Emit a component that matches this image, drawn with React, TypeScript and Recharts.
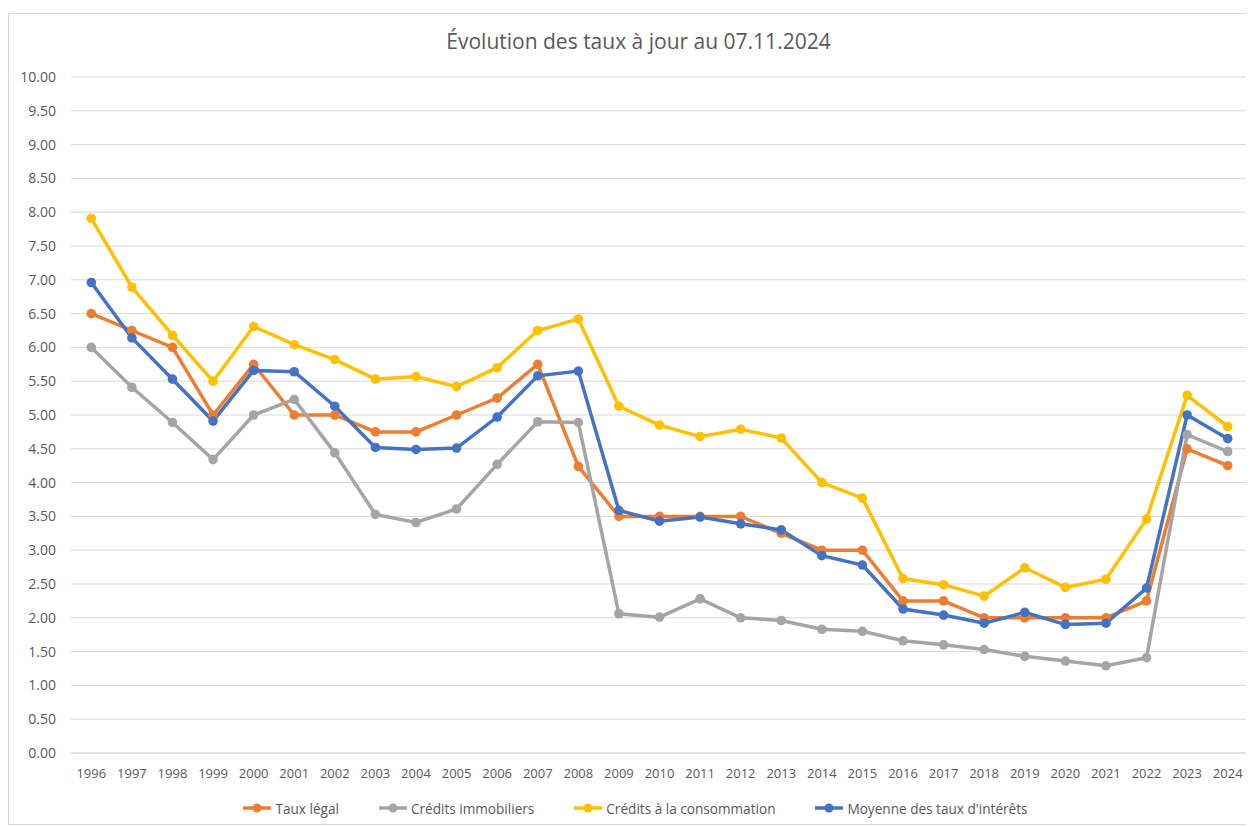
import React from 'react';
import { LineChart, Line, XAxis, YAxis, CartesianGrid, Legend } from 'recharts';

const years = [
  '1996', '1997', '1998', '1999', '2000', '2001', '2002', '2003', '2004', '2005',
  '2006', '2007', '2008', '2009', '2010', '2011', '2012', '2013', '2014', '2015',
  '2016', '2017', '2018', '2019', '2020', '2021', '2022', '2023', '2024',
];

const tauxLegal = [
  6.5, 6.25, 6.0, 5.0, 5.75, 5.0, 5.0, 4.75, 4.75, 5.0,
  5.25, 5.75, 4.24, 3.5, 3.5, 3.5, 3.5, 3.25, 3.0, 3.0,
  2.25, 2.25, 2.0, 2.0, 2.0, 2.0, 2.25, 4.5, 4.25,
];

const creditsImmobiliers = [
  6.0, 5.41, 4.89, 4.34, 5.0, 5.23, 4.44, 3.53, 3.41, 3.61,
  4.27, 4.9, 4.89, 2.06, 2.01, 2.28, 2.0, 1.96, 1.83, 1.8,
  1.66, 1.6, 1.53, 1.43, 1.36, 1.29, 1.41, 4.71, 4.46,
];

const creditsConsommation = [
  7.91, 6.89, 6.18, 5.5, 6.31, 6.04, 5.82, 5.53, 5.57, 5.42,
  5.7, 6.25, 6.42, 5.13, 4.85, 4.68, 4.79, 4.66, 4.0, 3.77,
  2.58, 2.49, 2.32, 2.74, 2.45, 2.57, 3.46, 5.29, 4.83,
];

const moyenneTaux = [
  6.96, 6.14, 5.53, 4.91, 5.66, 5.64, 5.13, 4.52, 4.49, 4.51,
  4.97, 5.58, 5.65, 3.59, 3.43, 3.49, 3.39, 3.3, 2.92, 2.78,
  2.13, 2.04, 1.92, 2.08, 1.9, 1.92, 2.44, 5.0, 4.65,
];

const yTicks = [0, 0.5, 1, 1.5, 2, 2.5, 3, 3.5, 4, 4.5, 5, 5.5, 6, 6.5, 7, 7.5, 8, 8.5, 9, 9.5, 10];

const series = [
  { key: 'tauxLegal', name: 'Taux légal', color: '#ED7D31' },
  { key: 'creditsImmobiliers', name: 'Crédits immobiliers', color: '#A5A5A5' },
  { key: 'creditsConsommation', name: 'Crédits à la consommation', color: '#FFC000' },
  { key: 'moyenneTaux', name: "Moyenne des taux d'intérêts", color: '#4472C4' },
];

const data = years.map((year, i) => ({
  year,
  tauxLegal: tauxLegal[i],
  creditsImmobiliers: creditsImmobiliers[i],
  creditsConsommation: creditsConsommation[i],
  moyenneTaux: moyenneTaux[i],
}));

const FONT = '"Open Sans", "Noto Sans", sans-serif';
const TEXT = '#595959';

const LegendContent = () => (
  <div
    style={{
      display: 'flex',
      justifyContent: 'center',
      alignItems: 'center',
      gap: 40,
      height: 24,
      paddingLeft: 14,
      fontFamily: FONT,
      fontSize: 13.6,
      color: TEXT,
    }}
  >
    {series.map((s) => (
      <div key={s.key} style={{ display: 'flex', alignItems: 'center' }}>
        <svg width={28} height={10} style={{ marginRight: 4 }}>
          <line x1={0} y1={5} x2={28} y2={5} stroke={s.color} strokeWidth={3.5} />
          <circle cx={14} cy={5} r={4.5} fill={s.color} />
        </svg>
        <span>{s.name}</span>
      </div>
    ))}
  </div>
);

export default function App() {
  return (
    <div
      style={{
        position: 'relative',
        width: 1250,
        height: 810,
        marginTop: 5,
        border: '1px solid #d9d9d9',
        background: '#fff',
      }}
    >
      <div
        style={{
          position: 'absolute',
          top: 13,
          left: 0,
          width: 1245,
          paddingLeft: 14,
          boxSizing: 'border-box',
          textAlign: 'center',
          fontFamily: FONT,
          fontSize: 21,
          color: TEXT,
        }}
      >
        Évolution des taux à jour au 07.11.2024
      </div>
      <LineChart
        width={1245}
        height={808}
        data={data}
        margin={{ top: 63, right: 6, left: 0, bottom: 2 }}
      >
        <CartesianGrid vertical={false} stroke="#d9d9d9" strokeWidth={1} />
        <XAxis
          dataKey="year"
          padding={{ left: 20.3, right: 20.3 }}
          height={43}
          tickLine={false}
          axisLine={{ stroke: '#d9d9d9' }}
          tick={{ fill: TEXT, fontSize: 13, fontFamily: FONT }}
          tickMargin={10}
          interval={0}
        />
        <YAxis
          domain={[0, 10]}
          ticks={yTicks}
          width={62}
          tickLine={false}
          axisLine={false}
          tickSize={0}
          tickMargin={15}
          tickFormatter={(v: number) => v.toFixed(2)}
          tick={{ fill: TEXT, fontSize: 14, fontFamily: FONT }}
          interval={0}
        />
        <Legend verticalAlign="bottom" content={<LegendContent />} />
        {series.map((s) => (
          <Line
            key={s.key}
            type="linear"
            dataKey={s.key}
            name={s.name}
            stroke={s.color}
            strokeWidth={3.5}
            dot={{ r: 4.8, fill: s.color, stroke: s.color, strokeWidth: 0 }}
            activeDot={false}
            isAnimationActive={false}
          />
        ))}
      </LineChart>
    </div>
  );
}
